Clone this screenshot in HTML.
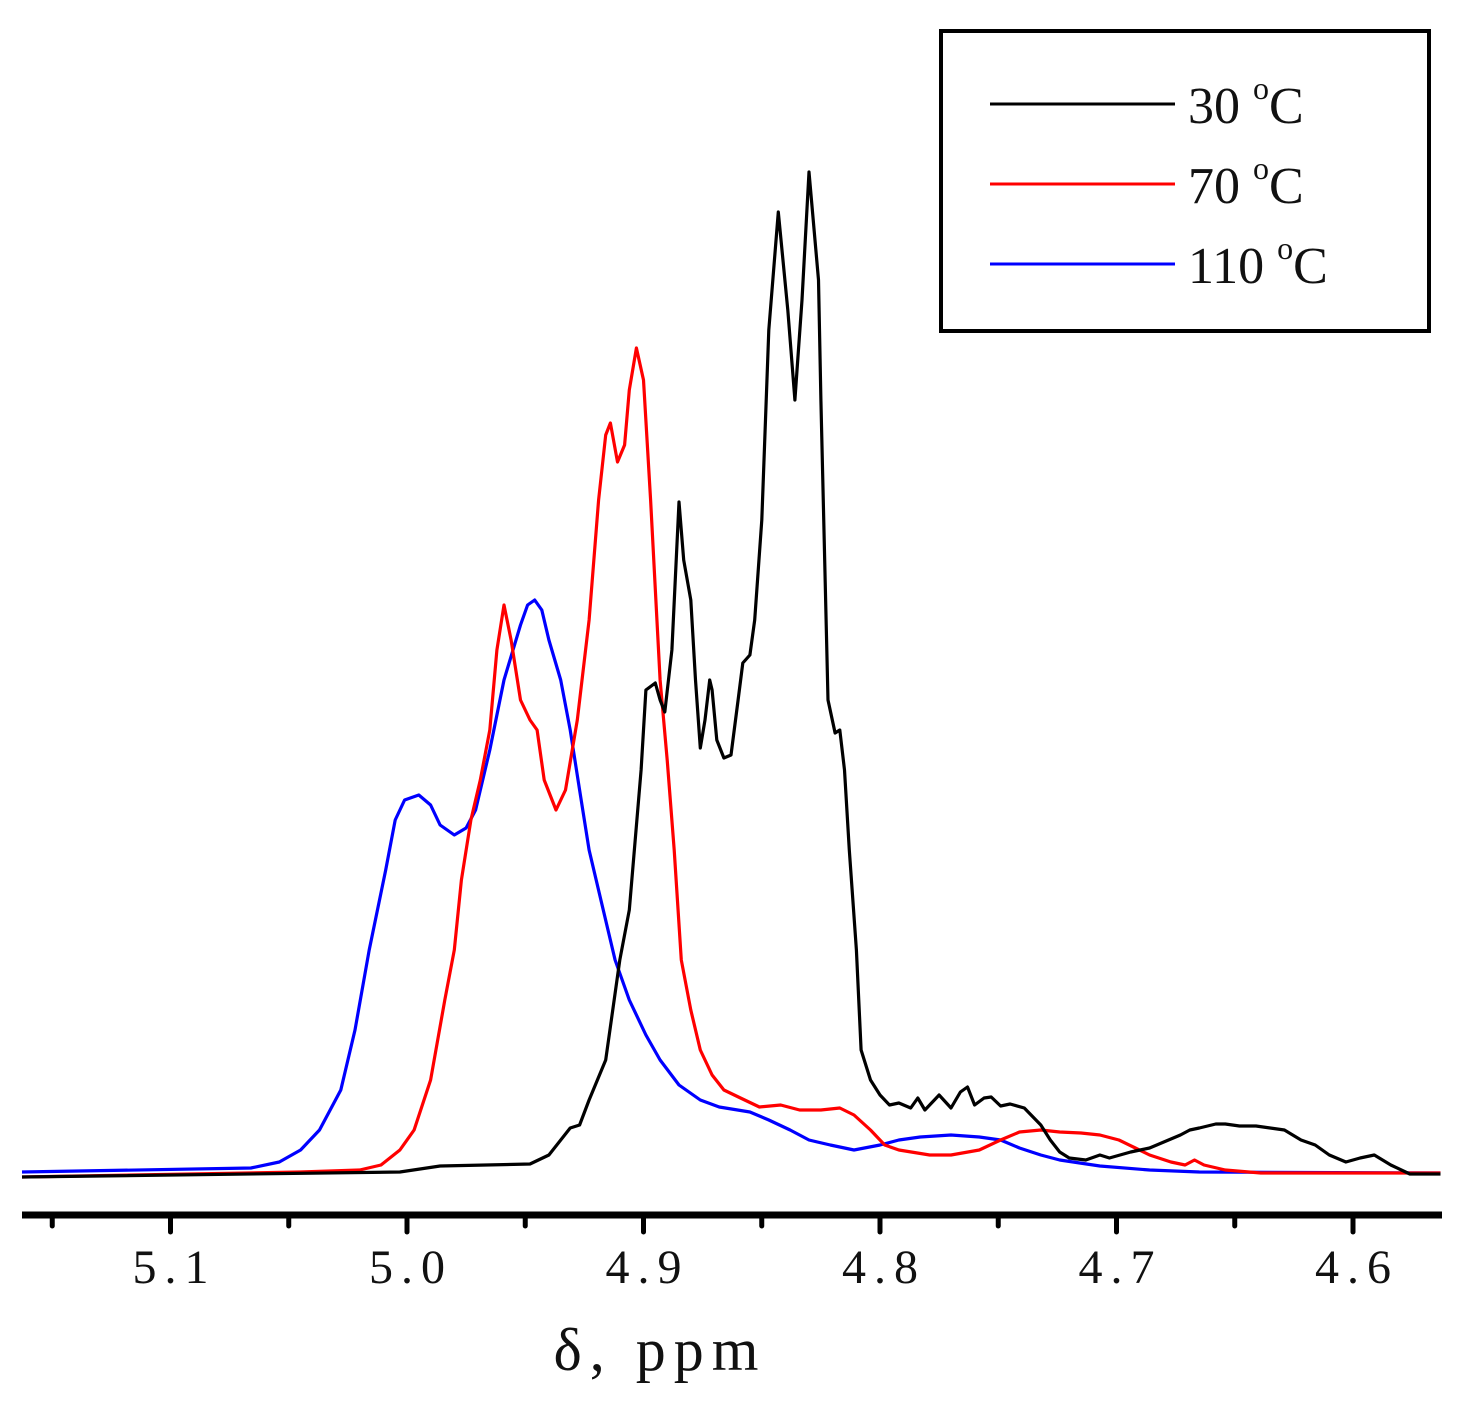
<!DOCTYPE html>
<html><head><meta charset="utf-8"><style>
html,body{margin:0;padding:0;background:#fff;}
svg{display:block;}
text{font-family:"Liberation Serif",serif;fill:#111;}
</style></head><body>
<svg id="chart" width="1470" height="1409" viewBox="0 0 1470 1409" xmlns="http://www.w3.org/2000/svg">
<g id="plot"></g>
<g id="axis"></g>
<text x="660" y="1370" font-size="60" text-anchor="middle" letter-spacing="8">δ, ppm</text>
<g>
<rect x="941" y="31" width="488" height="300" fill="none" stroke="#000" stroke-width="4"/>
<g>
<line x1="990" y1="104" x2="1175" y2="104" stroke="#000" stroke-width="3"/>
<text x="1188" y="123" font-size="52">30 <tspan font-size="32" dy="-24">o</tspan><tspan dy="24">C</tspan></text></g>
<g>
<line x1="990" y1="184" x2="1175" y2="184" stroke="#ff0000" stroke-width="3"/>
<text x="1188" y="203" font-size="52">70 <tspan font-size="32" dy="-24">o</tspan><tspan dy="24">C</tspan></text></g>
<g>
<line x1="990" y1="264" x2="1175" y2="264" stroke="#0000ff" stroke-width="3"/>
<text x="1188" y="283" font-size="52">110 <tspan font-size="32" dy="-24">o</tspan><tspan dy="24">C</tspan></text></g>
</g>
</svg>
<script>
const ppm30 = [5.163,5.003,4.986,4.948,4.940,4.931,4.927,4.923,4.916,4.910,4.906,4.901,4.899,4.895,4.893,4.891,4.888,4.885,4.883,4.880,4.878,4.876,4.874,4.872,4.871,4.869,4.866,4.863,4.860,4.858,4.855,4.853,4.850,4.847,4.843,4.839,4.836,4.833,4.830,4.826,4.825,4.822,4.819,4.817,4.815,4.813,4.810,4.808,4.804,4.800,4.796,4.792,4.787,4.784,4.781,4.777,4.775,4.770,4.766,4.763,4.760,4.756,4.753,4.749,4.745,4.739,4.732,4.728,4.724,4.720,4.713,4.707,4.703,4.694,4.686,4.680,4.673,4.669,4.665,4.658,4.654,4.648,4.641,4.635,4.629,4.622,4.616,4.610,4.603,4.597,4.591,4.584,4.576,4.563];
const int30 = [-4,1,7,9,18,45,48,73,113,213,263,403,483,490,473,461,523,671,613,573,493,425,453,493,483,433,415,418,473,510,518,553,653,843,961,863,773,873,1001,893,773,473,440,443,403,323,223,123,93,78,68,70,65,75,63,73,78,65,81,86,68,75,76,67,69,65,48,33,21,15,13,18,15,21,25,31,38,43,45,49,49,47,47,45,43,33,28,18,11,15,18,8,-1,-1];
const ppm70 = [5.163,5.045,5.020,5.011,5.003,4.997,4.990,4.984,4.980,4.977,4.973,4.969,4.965,4.962,4.959,4.956,4.952,4.948,4.945,4.942,4.937,4.933,4.928,4.923,4.919,4.916,4.914,4.911,4.908,4.906,4.903,4.900,4.897,4.893,4.890,4.887,4.884,4.880,4.876,4.871,4.866,4.859,4.851,4.842,4.834,4.825,4.817,4.811,4.804,4.798,4.792,4.779,4.770,4.758,4.749,4.741,4.732,4.724,4.715,4.707,4.699,4.692,4.686,4.677,4.671,4.667,4.663,4.654,4.639,4.563];
const int70 = [-4,1,3,8,23,43,93,173,223,293,353,393,443,523,568,533,473,453,443,393,363,383,453,553,673,738,750,711,728,783,825,793,673,493,413,323,213,163,123,98,83,75,66,68,63,63,65,58,43,28,23,18,18,23,33,41,43,41,40,38,33,25,18,11,8,13,8,3,0,0];
const ppm110 = [5.163,5.066,5.054,5.045,5.037,5.028,5.022,5.016,5.009,5.005,5.001,4.995,4.990,4.986,4.980,4.975,4.971,4.965,4.959,4.952,4.949,4.946,4.943,4.940,4.935,4.931,4.927,4.923,4.918,4.912,4.906,4.899,4.893,4.885,4.876,4.868,4.855,4.847,4.838,4.830,4.821,4.811,4.800,4.792,4.783,4.770,4.758,4.749,4.741,4.732,4.724,4.707,4.686,4.665,4.563];
const int110 = [1,5,11,23,43,83,143,223,303,353,373,378,368,348,338,345,363,423,493,548,568,573,563,533,493,443,383,323,273,213,173,138,113,88,73,66,61,53,43,33,28,23,28,33,36,38,36,33,25,18,13,7,3,1,0];
const majorTicks = [5.1,5.0,4.9,4.8,4.7,4.6];
const majorLabels = ["5.1","5.0","4.9","4.8","4.7","4.6"];
const minorTicks = [5.15,5.05,4.95,4.85,4.75,4.65];

const NS = "http://www.w3.org/2000/svg";
function xScale(v){ return 407 + (5.0 - v) * 2365; }
function yScale(i){ return 1173 - i; }
const plot = document.getElementById('plot');
const axis = document.getElementById('axis');
function drawSeries(px, py, color, name){
  const pts = px.map((p,k)=> Math.max(22,Math.min(1442,xScale(p))).toFixed(1)+','+yScale(py[k]).toFixed(1)).join(' ');
  const pl = document.createElementNS(NS,'polyline');
  pl.setAttribute('points', pts);
  pl.setAttribute('fill','none');
  pl.setAttribute('stroke', color);
  pl.setAttribute('stroke-width','3.2');
  pl.setAttribute('stroke-linejoin','round');
  
  
  plot.appendChild(pl);
}
drawSeries(ppm110, int110, '#0000ff', 'series-110c');
drawSeries(ppm70, int70, '#ff0000', 'series-70c');
drawSeries(ppm30, int30, '#000000', 'series-30c');

const axLine = document.createElementNS(NS,'line');
axLine.setAttribute('x1','22'); axLine.setAttribute('x2','1442');
axLine.setAttribute('y1','1215'); axLine.setAttribute('y2','1215');
axLine.setAttribute('stroke','#000'); axLine.setAttribute('stroke-width','7');


axis.appendChild(axLine);
majorTicks.forEach((t,k)=>{
  const x = xScale(t);
  const l = document.createElementNS(NS,'line');
  l.setAttribute('x1',x); l.setAttribute('x2',x); l.setAttribute('y1','1215'); l.setAttribute('y2','1232');
  l.setAttribute('stroke','#000'); l.setAttribute('stroke-width','5'); l.setAttribute('stroke-linecap','round');
  
  
  axis.appendChild(l);
  const tx = document.createElementNS(NS,'text');
  tx.setAttribute('x', x + 4); tx.setAttribute('y','1283');
  tx.setAttribute('font-size','48'); tx.setAttribute('text-anchor','middle'); tx.setAttribute('letter-spacing','8');
  tx.textContent = majorLabels[k];
  
  
  axis.appendChild(tx);
});
minorTicks.forEach(t=>{
  const x = xScale(t);
  const l = document.createElementNS(NS,'line');
  l.setAttribute('x1',x); l.setAttribute('x2',x); l.setAttribute('y1','1215'); l.setAttribute('y2','1226');
  l.setAttribute('stroke','#000'); l.setAttribute('stroke-width','5'); l.setAttribute('stroke-linecap','round');
  
  
  axis.appendChild(l);
});
</script>
</body></html>
